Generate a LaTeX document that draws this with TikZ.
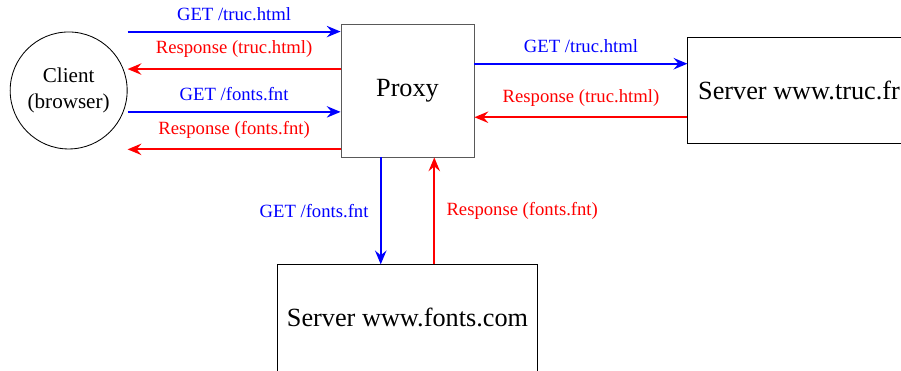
\documentclass[tikz,border=0pt]{standalone}
\usepackage{fontspec}
\setmainfont{Liberation Serif}
\usepackage{xcolor}
\usetikzlibrary{arrows.meta, positioning, calc}

\begin{document}
\begin{tikzpicture}[
    font=\fontsize{8.85}{10.5}\selectfont,
    node distance=3.55cm,
    bigtext/.style={font=\fontsize{12.45}{15}\selectfont},
    proxybox/.style={draw=black!65, minimum width=2.217cm, minimum height=2.217cm, bigtext},
    serverbox/.style={draw, minimum height=1.77cm, inner xsep=4.9pt, bigtext},
    clientnode/.style={draw, circle, minimum size=1.95cm, align=center, inner sep=0pt, font=\fontsize{10}{12}\selectfont},
    get/.style={-{Stealth[length=2.3mm, width=1.9mm, inset=0.8mm]}, line width=0.95pt, blue},
    resp/.style={-{Stealth[length=2.3mm, width=1.9mm, inset=0.8mm]}, line width=0.95pt, red}
]
\useasboundingbox (0,0) rectangle (15.017,-6.167);

% Nodes
\node[proxybox] (proxy) at (6.792,-1.508) {Proxy};
\node[clientnode, left=of proxy] (client) {Client\\(browser)};
\node[serverbox, right=of proxy] (truc) {Server www.truc.fr};
\node[serverbox, below=1.783cm of proxy, inner xsep=4.5pt] (fonts) {Server www.fonts.com};

% Points on the proxy sides
\coordinate (pw1) at ($(proxy.north west)!0.06!(proxy.south west)$);
\coordinate (pw2) at ($(proxy.north west)!0.34!(proxy.south west)$);
\coordinate (pw3) at ($(proxy.north west)!0.66!(proxy.south west)$);
\coordinate (pw4) at ($(proxy.north west)!0.94!(proxy.south west)$);
\coordinate (pe1) at ($(proxy.north east)!0.30!(proxy.south east)$);
\coordinate (pe2) at ($(proxy.north east)!0.70!(proxy.south east)$);
\coordinate (ps1) at ($(proxy.south west)!0.30!(proxy.south east)$);
\coordinate (ps2) at ($(proxy.south west)!0.70!(proxy.south east)$);

% Client <-> Proxy
\draw[get] (client.east |- pw1) -- (pw1) node[midway, above=1.5pt] {GET /truc.html};
\draw[resp] (pw2) -- (client.east |- pw2) node[midway, above=1.5pt] {Response (truc.html)};
\draw[get] (client.east |- pw3) -- (pw3) node[midway, above=1.5pt] {GET /fonts.fnt};
\draw[resp] (pw4) -- (client.east |- pw4) node[midway, above=1.5pt] {Response (fonts.fnt)};

% Proxy <-> www.truc.fr
\draw[get] (pe1) -- (truc.west |- pe1) node[midway, above=1.5pt] {GET /truc.html};
\draw[resp] (truc.west |- pe2) -- (pe2) node[midway, above=1.5pt] {Response (truc.html)};

% Proxy <-> www.fonts.com
\draw[get] (ps1) -- (ps1 |- fonts.north) node[midway, left=2pt] {GET /fonts.fnt};
\draw[resp] (ps2 |- fonts.north) -- (ps2) node[midway, right=2pt] {Response (fonts.fnt)};
\end{tikzpicture}
\end{document}
